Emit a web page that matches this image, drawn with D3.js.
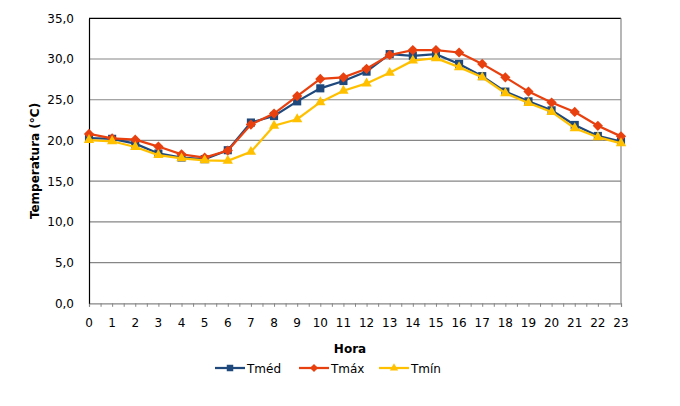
<!DOCTYPE html>
<html><head><meta charset="utf-8">
<script src="https://cdn.jsdelivr.net/npm/d3@7"></script>
<style>body{margin:0;background:#fff}svg{display:block}text{font-family:"DejaVu Sans",Verdana,sans-serif;fill:#000}</style>
</head><body><svg id="c" width="680" height="406"></svg>
<script>
const hours = d3.range(0, 24);
const tmed = [20.3,20.2,19.6,18.4,17.9,17.7,18.8,22.2,23.0,24.8,26.4,27.3,28.45,30.6,30.4,30.6,29.4,27.9,26.0,24.8,23.7,21.9,20.55,19.85];
const tmax = [20.8,20.25,20.1,19.25,18.3,17.9,18.75,21.95,23.3,25.45,27.55,27.75,28.8,30.5,31.1,31.1,30.8,29.4,27.75,26.0,24.65,23.5,21.8,20.5];
const tmin = [20.05,19.9,19.2,18.2,17.8,17.55,17.5,18.6,21.8,22.6,24.7,26.1,27.0,28.3,29.8,30.1,29.0,27.75,25.8,24.6,23.5,21.5,20.4,19.65];
const yTicks = [0,5,10,15,20,25,30,35];
const seriesNames = ["Tméd","Tmáx","Tmín"];
const seriesColors = ["#1F497D","#E8400E","#FFC000"];
const seriesData = [tmed, tmax, tmin];

const svg = d3.select("#c");
const L = 89, R = 621, T = 18.3, B = 303.3;
const x = d3.scaleLinear().domain([0,23]).range([L,R]);
const y = d3.scaleLinear().domain([0,35]).range([B,T]);

function marker(k, scale){
  if(k===0) return {d:d3.symbol().type(d3.symbolSquare).size(66*scale*scale)(), rot:0};
  if(k===1) return {d:d3.symbol().type(d3.symbolSquare).size(52*scale*scale)(), rot:45};
  return {d:d3.symbol().type(d3.symbolTriangle).size(46*scale*scale)(), rot:0};
}

// gridlines
svg.append("g").selectAll("line").data(yTicks.filter(d=>d>0&&d<35)).join("line")
  .attr("x1",L).attr("x2",R).attr("y1",d=>y(d)).attr("y2",d=>y(d))
  .attr("stroke","#868686").attr("stroke-width",1.2);
svg.append("line").attr("x1",L).attr("x2",R).attr("y1",T).attr("y2",T).attr("stroke","#000").attr("stroke-width",1.2);
svg.append("line").attr("x1",R).attr("x2",R).attr("y1",T).attr("y2",B).attr("stroke","#868686").attr("stroke-width",1.2);

// x axis
const xAxis = d3.axisBottom(x).tickValues(d3.range(0,23.01,0.5)).tickSize(3.5).tickFormat("");
const gx = svg.append("g").attr("transform",`translate(0,${B})`).call(xAxis);
gx.select(".domain").attr("stroke","#868686").attr("stroke-width",1.2);
gx.selectAll(".tick line").attr("stroke","#868686");
svg.append("g").selectAll("text").data(hours).join("text")
  .attr("x",d=>x(d)).attr("y",327).attr("text-anchor","middle").attr("font-size",12).text(d=>d);

// y axis
const yAxis = d3.axisLeft(y).tickValues(yTicks).tickSize(0).tickPadding(15).tickFormat(d=>d3.format(".1f")(d).replace(".",","));
const gy = svg.append("g").attr("transform",`translate(${L},0)`).call(yAxis);
gy.select(".domain").attr("stroke","#000").attr("stroke-width",1.2);
gy.selectAll(".tick text").attr("font-size",12).attr("font-family","DejaVu Sans").attr("fill","#000");

// axis titles
svg.append("text").attr("x",350).attr("y",353).attr("text-anchor","middle").attr("font-size",12).attr("font-weight","bold").text("Hora");
svg.append("text").attr("transform",`translate(39,161) rotate(-90)`).attr("text-anchor","middle").attr("font-size",12).attr("font-weight","bold").text("Temperatura (°C)");

// series
const line = d3.line().x((d,i)=>x(hours[i])).y(d=>y(d));
seriesData.forEach((vals,k)=>{
  const g = svg.append("g");
  g.append("path").datum(vals).attr("d",line).attr("fill","none").attr("stroke",seriesColors[k]).attr("stroke-width",2.25);
  const m = marker(k,1);
  g.selectAll("path.m").data(vals).join("path").attr("class","m")
    .attr("transform",(d,i)=>`translate(${x(hours[i])},${y(d)}) rotate(${m.rot})`)
    .attr("d",m.d).attr("fill",seriesColors[k]);
});

// legend
const legX = [215, 299, 379];
seriesNames.forEach((n,k)=>{
  const g = svg.append("g").attr("transform",`translate(${legX[k]},368)`);
  g.append("line").attr("x1",0).attr("x2",30).attr("stroke",seriesColors[k]).attr("stroke-width",2.25);
  const m = marker(k,0.8);
  g.append("path").attr("transform",`translate(15,0) rotate(${m.rot})`).attr("d",m.d).attr("fill",seriesColors[k]);
  g.append("text").attr("x",32).attr("y",4.5).attr("font-size",12).text(n);
});
</script></body></html>
